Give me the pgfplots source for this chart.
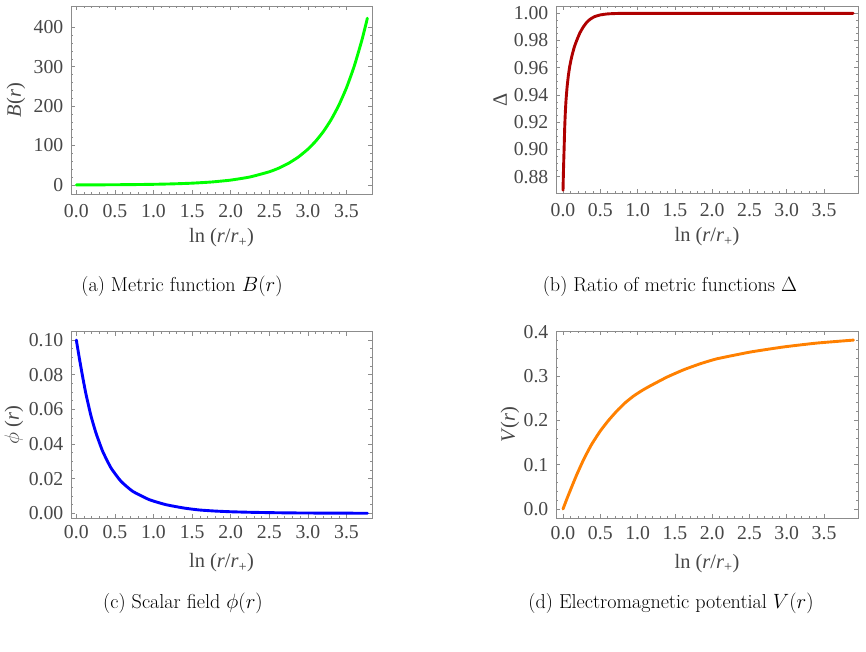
\documentclass[border=0pt]{standalone}
\usepackage{fontspec}
\usepackage{pgfplots}
\pgfplotsset{compat=1.18}
\newfontfamily\tms{Liberation Serif}
\definecolor{framec}{gray}{0.55}
\definecolor{labc}{gray}{0.28}
\definecolor{mgreen}{RGB}{0,255,0}
\definecolor{mred}{RGB}{175,0,0}
\definecolor{mblue}{RGB}{0,0,255}
\definecolor{morange}{RGB}{255,128,0}
\pgfplotsset{
  mma/.style={
    scale only axis,
    axis line style={framec, line width=0.8bp},
    tick style={framec, line width=0.6bp},
    major tick length=4bp, minor tick length=2.4bp,
    tick align=inside,
    tick label style={font=\tms\fontsize{19.8}{21}\selectfont, text=labc},
    label style={font=\tms\fontsize{20.5}{22}\selectfont, text=labc},
    /pgf/number format/assume math mode=true,
    scaled ticks=false,
    xtick={0,0.5,1,1.5,2,2.5,3,3.5},
    minor x tick num=4,
    xticklabel style={/pgf/number format/fixed, /pgf/number format/fixed zerofill, /pgf/number format/precision=1},
    yticklabel style={anchor=east, inner sep=0pt, xshift=-7.5bp},
    xlabel={ln (\textit{r}/\textit{r}\textsubscript{+})},
    every axis plot/.append style={line width=2.9bp, line join=round, line cap=round, smooth, tension=0.3},
  },
  row1/.style={xticklabel style={anchor=center, inner sep=0pt, yshift=-17bp},
    xlabel style={at={(axis description cs:0.5,0)}, anchor=center, yshift=-44bp}},
  row2/.style={xticklabel style={anchor=center, inner sep=0pt, yshift=-14.5bp},
    xlabel style={at={(axis description cs:0.5,0)}, anchor=center, yshift=-45bp}},
}
\begin{document}
\begin{tikzpicture}
\path[use as bounding box] (0,0) rectangle (866bp,652bp);
% (a)
\begin{axis}[mma, row1, at={(71bp,458bp)}, anchor=south west, width=301bp, height=188bp,
  xmin=-0.069, xmax=3.83, ymin=-23, ymax=454,
  ytick={0,100,200,300,400}, minor y tick num=4,
  yticklabel style={/pgf/number format/fixed, /pgf/number format/precision=0},
  ylabel={\textit{B}(\textit{r})},
  ylabel style={at={(axis description cs:-0.1827,0.5)}, anchor=center}]
\addplot[mgreen] coordinates {
(0,0) (0.25,0.196) (0.5,0.475) (0.75,0.902) (1.0,1.580) (1.25,2.677) (1.5,4.469)
(1.75,7.412) (2.0,12.254) (2.25,20.230) (2.5,33.374) (2.625,42.85) (2.75,55.041) (2.875,70.69)
(3.0,90.760) (3.1,110.87) (3.2,135.41) (3.3,165.40) (3.4,202.02) (3.5,246.74)
(3.6,301.37) (3.7,368.10) (3.77,423.0)};
\end{axis}
% (b)
\begin{axis}[mma, row1, at={(556bp,459bp)}, anchor=south west, width=302bp, height=187bp,
  xmin=-0.094, xmax=3.955, ymin=0.868, ymax=1.0054,
  ytick={0.88,0.90,0.92,0.94,0.96,0.98,1.00}, minor y tick num=3,
  yticklabel style={/pgf/number format/fixed, /pgf/number format/fixed zerofill, /pgf/number format/precision=2},
  ylabel={Δ},
  ylabel style={at={(axis description cs:-0.1854,0.5)}, anchor=center}]
\addplot[mred] coordinates {
(0,0.870) (0.005,0.882) (0.010,0.892) (0.016,0.903) (0.022,0.915) (0.030,0.926)
(0.040,0.936) (0.055,0.946) (0.071,0.954) (0.090,0.961) (0.116,0.968) (0.15,0.975)
(0.183,0.980) (0.225,0.9855) (0.272,0.990) (0.32,0.9935) (0.362,0.9956) (0.42,0.9975)
(0.496,0.9988) (0.6,0.9996) (0.75,0.99995) (1.0,1.0) (1.5,1.0) (2.0,1.0) (3.0,1.0) (3.89,1.0)};
\end{axis}
% (c)
\begin{axis}[mma, row2, at={(71bp,134bp)}, anchor=south west, width=301bp, height=186.3bp,
  xmin=-0.069, xmax=3.83, ymin=-0.0027, ymax=0.1048,
  ytick={0,0.02,0.04,0.06,0.08,0.10}, minor y tick num=3,
  yticklabel style={/pgf/number format/fixed, /pgf/number format/fixed zerofill, /pgf/number format/precision=2},
  ylabel={$\phi$ (\textit{r})},
  ylabel style={at={(axis description cs:-0.1894,0.5)}, anchor=center}]
\addplot[mblue] coordinates {
(0,0.1) (0.04,0.0893) (0.083,0.0785) (0.125,0.0688) (0.19,0.0562) (0.255,0.0463)
(0.341,0.0358) (0.449,0.0262) (0.578,0.0185) (0.73,0.0127) (0.944,0.0079) (1.16,0.0050)
(1.4,0.0030) (1.6,0.0019) (1.8,0.0013) (2.0,0.0009) (2.25,0.0006) (2.5,0.0004)
(2.75,0.00025) (3.0,0.00017) (3.5,0.00008) (3.77,0.00005)};
\end{axis}
% (d)
\begin{axis}[mma, row2, at={(556bp,133.7bp)}, anchor=south west, width=302bp, height=187.3bp,
  xmin=-0.094, xmax=3.955, ymin=-0.021, ymax=0.4015,
  ytick={0,0.1,0.2,0.3,0.4}, minor y tick num=4,
  yticklabel style={/pgf/number format/fixed, /pgf/number format/fixed zerofill, /pgf/number format/precision=1},
  ylabel={\textit{V}(\textit{r})},
  ylabel style={at={(axis description cs:-0.1523,0.5)}, anchor=center}]
\addplot[morange] coordinates {
(0,0) (0.05,0.022) (0.1,0.043) (0.18,0.0758) (0.277,0.1117) (0.38,0.1447) (0.5,0.176)
(0.61,0.1998) (0.723,0.2213) (0.835,0.2398) (0.947,0.2549) (1.06,0.2673) (1.17,0.2778)
(1.394,0.2975) (1.617,0.314) (1.84,0.3276) (2.064,0.3388) (2.51,0.354) (2.957,0.3655)
(3.4,0.3742) (3.895,0.381)};
\end{axis}
\begin{scope}[every node/.style={font=\fontsize{20.2}{24}\selectfont, anchor=center}]
\node at (182bp,366bp) {(a) Metric function $B(r)$};
\node at (670bp,366bp) {(b) Ratio of metric functions $\Delta$};
\node at (183bp,49bp) {(c) Scalar field $\phi(r)$};
\node at (671bp,49bp) {(d) Electromagnetic potential $V(r)$};
\end{scope}
\end{tikzpicture}
\end{document}
